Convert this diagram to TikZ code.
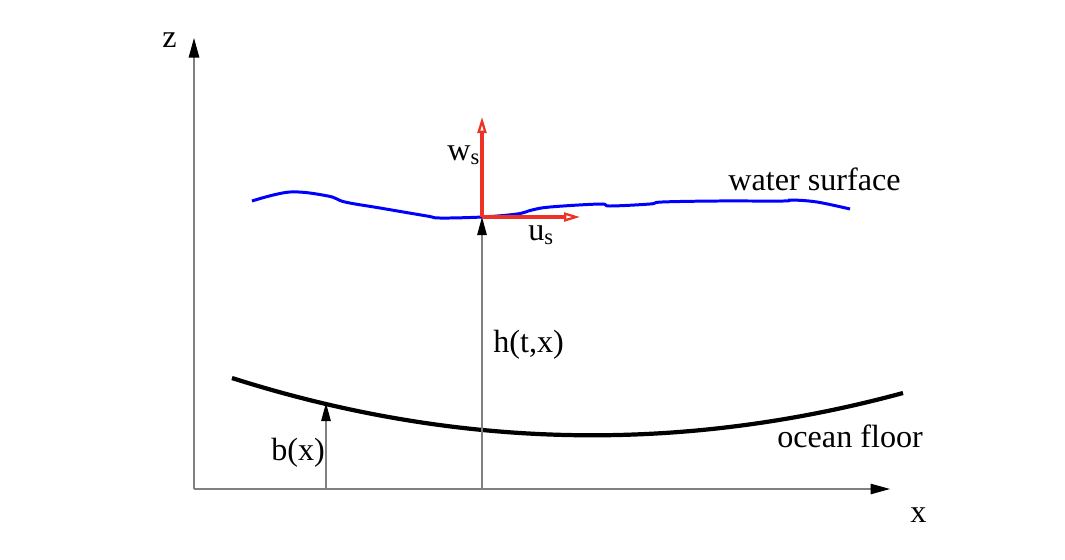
\documentclass[tikz,border=0pt]{standalone}
\usepackage{fontspec}
\setmainfont{Liberation Serif}
\usetikzlibrary{positioning,arrows.meta}
\definecolor{velred}{RGB}{238,50,36}

\begin{document}
\begin{tikzpicture}[x=0.02cm, y=-0.02cm,
    font=\fontsize{18.3}{22}\selectfont,
    axis/.style={draw=gray, line width=0.6pt, -{Triangle[length=0.39cm, width=0.21cm, color=black]}},
    lift/.style={draw=gray, line width=0.6pt, -{Triangle[length=0.36cm, width=0.19cm, color=black]}},
    vel/.style={draw=velred, line width=1.8pt, -{Triangle[open, length=0.32cm, width=0.18cm, line width=1.3pt]}},
    lbl/.style={inner sep=0pt, anchor=base west}]
				\useasboundingbox (0,0) rectangle (1065,559);

				% axes
				\coordinate (O) at (194,489);
				\coordinate (ztip) at (194,38);
				\coordinate (xtip) at (890,489);
				\draw[axis] (O) -- (ztip);
				\draw[axis] (O) -- (xtip);
				\node[lbl] (zlabel) at (162,47) {z};
				\node[lbl] (xlabel) at (910,522) {x};

				% ocean floor
				\coordinate (fl) at (232,378);
				\coordinate (fr) at (903,393);
				\draw[line width=2.4pt] (fl) .. controls (455,449) and (678,454) .. (fr);
				\node[lbl] (floor) at (777,447) {ocean floor};

				% water surface
				\draw[blue, line width=1.7pt] plot[smooth, tension=0.6] coordinates {
				  (252,201) (290,192) (328,196) (345,202) (380,208) (427,216)
				  (440,218) (482,217) (517,214) (532,210) (550,207) (600,204)
				  (610,206) (650,204) (662,202) (717,201) (783,201) (792,200)
				  (817,202) (850,209)};
				\node[lbl] (surface) at (728,190) {water surface};

				% heights
				\coordinate (hb) at (482,489);
				\coordinate (ht) at (482,217);
				\coordinate (bb) at (326,489);
				\coordinate (bt) at (326,403);
				\draw[lift] (hb) -- (ht);
				\draw[lift] (bb) -- (bt);
				\node[lbl] (hlabel) at (493,352) {h(t,x)};
				\node[lbl] (blabel) at (271,460) {b(x)};

				% surface velocity
				\coordinate (wtip) at (482,117);
				\coordinate (utip) at (580,217);
				\draw[vel] (ht) -- (wtip);
				\draw[vel] (ht) -- (utip);
				\node[lbl] (wlabel) at (447,160) {w\textsubscript{s}};
				\node[lbl] (ulabel) at (528,240) {u\textsubscript{s}};
			\end{tikzpicture}
\end{document}
